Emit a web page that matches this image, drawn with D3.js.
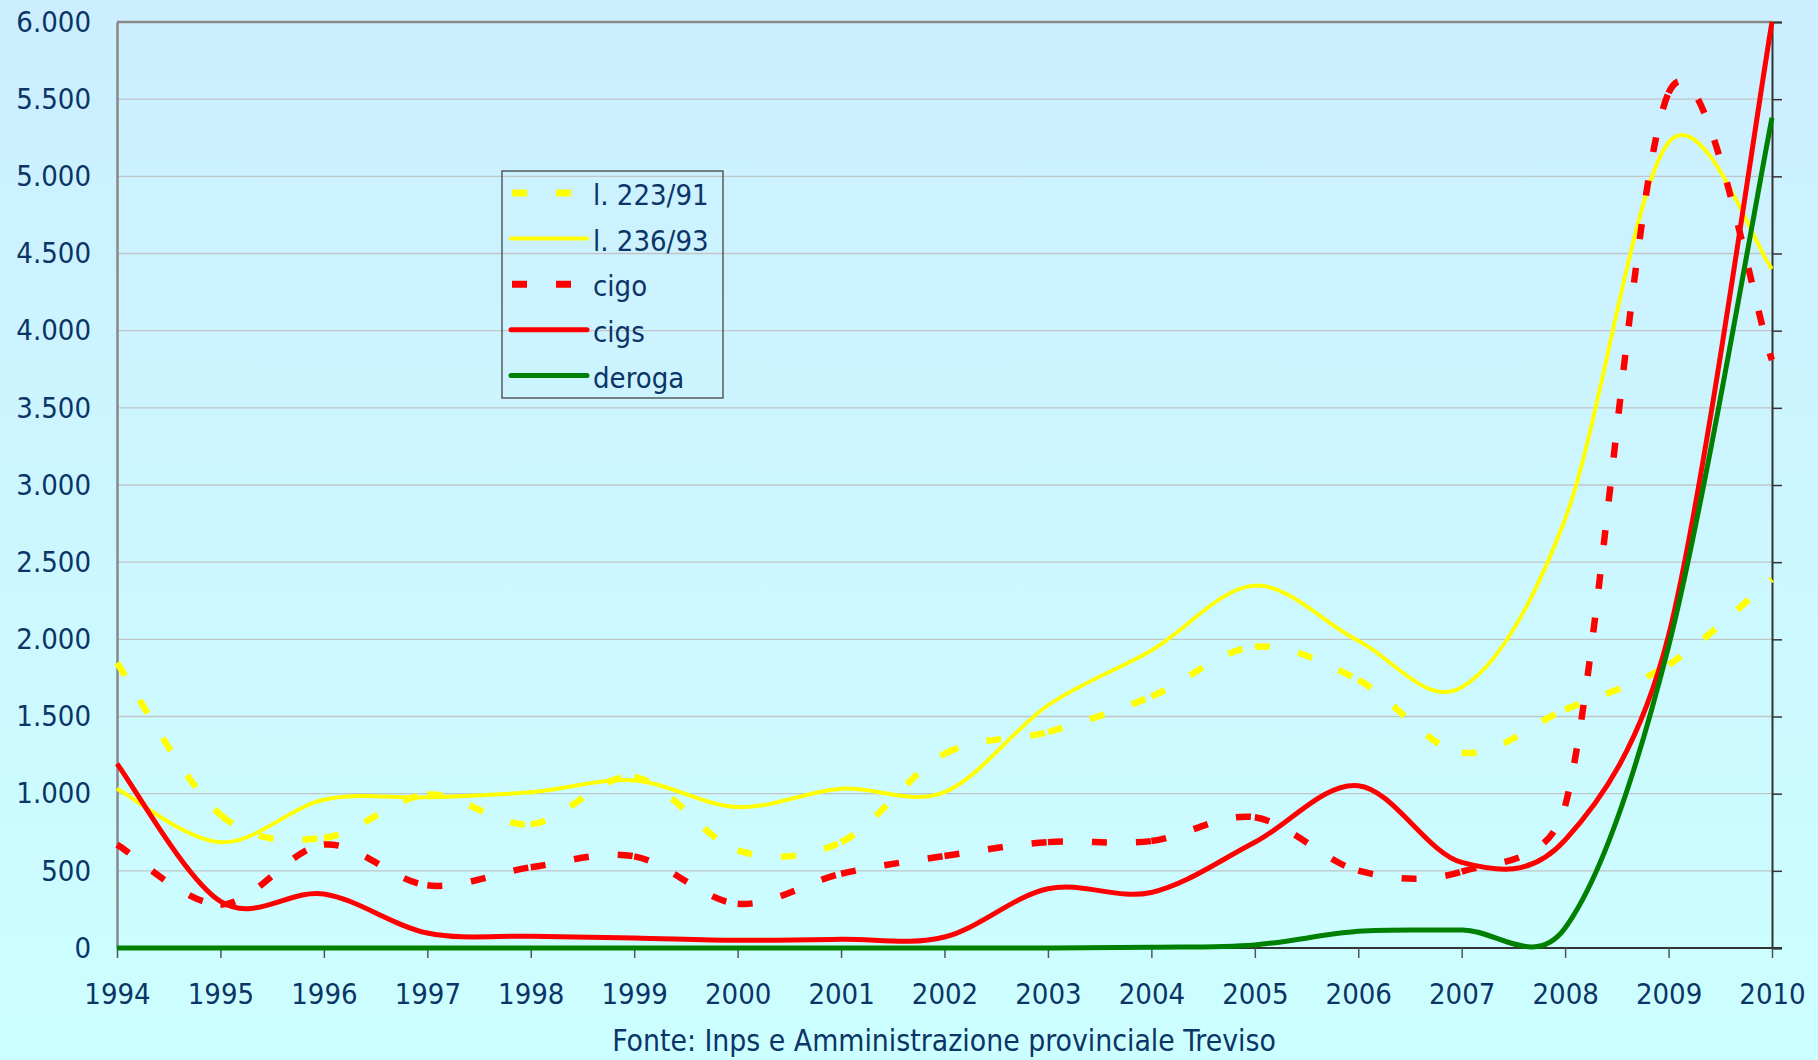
<!DOCTYPE html>
<html>
<head>
<meta charset="utf-8">
<script src="https://cdn.jsdelivr.net/npm/d3@7"></script>
<style>
  body { margin: 0; }
  text {
    font-family: "DejaVu Sans Condensed", "DejaVu Sans", sans-serif;
    font-stretch: condensed;
    fill: #0b3566;
  }
</style>
</head>
<body>
<div id="chart"></div>
<script>
// data (annual values)
var years = [1994, 1995, 1996, 1997, 1998, 1999, 2000, 2001, 2002,
             2003, 2004, 2005, 2006, 2007, 2008, 2009, 2010];
var l22391 = [1847, 864, 713, 994, 801, 1108, 633, 686, 1258,
              1399, 1630, 1952, 1737, 1266, 1545, 1835, 2390];
var l23693 = [1032, 685, 961, 976, 1009, 1086, 913, 1032, 1010,
              1572, 1928, 2348, 1991, 1689, 2780, 5220, 4400];
var cigo = [670, 281, 670, 406, 523, 594, 287, 481, 596,
            686, 693, 847, 501, 495, 920, 5540, 3810];
var cigs = [1194, 302, 350, 97, 76, 65, 50, 56, 71,
            384, 360, 685, 1052, 555, 700, 2025, 6000];
var deroga = [0, 0, 0, 0, 0, 0, 0, 0, 0,
              0, 5, 20, 108, 117, 130, 1955, 5380];
var yTicks = [0, 500, 1000, 1500, 2000, 2500, 3000, 3500, 4000, 4500, 5000, 5500, 6000];
var source = "Fonte: Inps e Amministrazione provinciale Treviso";

var series = [
  {name: "l. 223/91", values: l22391, color: "#ffff00", dashed: true},
  {name: "l. 236/93", values: l23693, color: "#ffff00", dashed: false, w: 4},
  {name: "cigo", values: cigo, color: "#ff0000", dashed: true},
  {name: "cigs", values: cigs, color: "#ff0000", dashed: false, w: 5},
  {name: "deroga", values: deroga, color: "#008000", dashed: false, w: 5}
];

var svgWidth = 1818;
var svgHeight = 1060;
var margin = {top: 22, right: 46, bottom: 112, left: 117};
var width = svgWidth - margin.left - margin.right;
var height = svgHeight - margin.top - margin.bottom;

var svg = d3.select("#chart")
  .append("svg")
  .attr("width", svgWidth)
  .attr("height", svgHeight);

var grad = svg.append("defs").append("linearGradient")
  .attr("id", "bg")
  .attr("x1", 0).attr("y1", 0).attr("x2", 0).attr("y2", 1);
grad.append("stop").attr("offset", "0%").attr("stop-color", "#cceeff");
grad.append("stop").attr("offset", "100%").attr("stop-color", "#ccffff");

svg.append("rect")
  .attr("width", svgWidth)
  .attr("height", svgHeight)
  .attr("fill", "url(#bg)");

var chartGroup = svg.append("g")
  .attr("transform", `translate(${margin.left}, ${margin.top})`);

var x = d3.scaleLinear()
  .domain([years[0], years[years.length - 1]])
  .range([0, width]);

var y = d3.scaleLinear()
  .domain([0, 6000])
  .range([height, 0]);

var it = d3.formatLocale({decimal: ",", thousands: ".", grouping: [3], currency: ["€", ""]});
var fmt = it.format(",d");

// gridlines
chartGroup.append("g")
  .selectAll("line")
  .data(yTicks.filter(d => d > 0 && d < 6000))
  .enter()
  .append("line")
  .attr("x1", 0)
  .attr("x2", width)
  .attr("y1", d => y(d))
  .attr("y2", d => y(d))
  .attr("stroke", "#bfc5c8")
  .attr("stroke-width", 1.3);

// top border of plot area
chartGroup.append("line")
  .attr("x1", 0).attr("x2", width)
  .attr("y1", 0).attr("y2", 0)
  .attr("stroke", "#888888")
  .attr("stroke-width", 2.5);

// left axis (labels only, grey line)
var leftAxis = d3.axisLeft(y).tickValues(yTicks).tickFormat(fmt).tickSize(0).tickPadding(26);
var gl = chartGroup.append("g").call(leftAxis);
gl.select(".domain").attr("stroke", "#888888").attr("stroke-width", 2.5);
gl.selectAll("text")
  .style("font-size", "29px")
  .attr("fill", "#0b3566");

// right axis (ticks only)
var rightAxis = d3.axisRight(y).tickValues(yTicks).tickFormat("").tickSize(10);
var gr = chartGroup.append("g")
  .attr("transform", `translate(${width}, 0)`)
  .call(rightAxis);
gr.select(".domain").attr("stroke", "#333333").attr("stroke-width", 2);
gr.selectAll(".tick line").attr("stroke", "#333333").attr("stroke-width", 1.5);

// bottom axis
var bottomAxis = d3.axisBottom(x).tickValues(years).tickFormat(d3.format("d"))
  .tickSize(10).tickPadding(25).tickSizeOuter(0);
var gb = chartGroup.append("g")
  .attr("transform", `translate(0, ${height})`)
  .call(bottomAxis);
gb.select(".domain").attr("stroke", "#333333").attr("stroke-width", 2)
  .attr("d", `M0,0H${width + 10}`);
gb.selectAll(".tick line").attr("stroke", "#555555").attr("stroke-width", 1.5);
gb.selectAll("text")
  .style("font-size", "29px")
  .attr("fill", "#0b3566");

// Excel-like smoothing: catmull-rom handles, capped at half the chord,
// one bezier per pair of points (so dashes restart at every point)
function smoothSegments(values) {
  var pts = values.map((v, i) => [x(years[i]), y(v)]);
  var n = pts.length;
  var tan = pts.map(function(p, i) {
    var a = pts[Math.max(i - 1, 0)], b = pts[Math.min(i + 1, n - 1)];
    return [(b[0] - a[0]) / 6, (b[1] - a[1]) / 6];
  });
  function capped(t, chord) {
    var len = Math.hypot(t[0], t[1]);
    var k = len > chord / 2 ? (chord / 2) / len : 1;
    return [t[0] * k, t[1] * k];
  }
  var segs = [];
  for (var i = 0; i < n - 1; i++) {
    var p0 = pts[i], p1 = pts[i + 1];
    var chord = Math.hypot(p1[0] - p0[0], p1[1] - p0[1]);
    var t0 = capped(tan[i], chord), t1 = capped(tan[i + 1], chord);
    var p = d3.path();
    p.moveTo(p0[0], p0[1]);
    p.bezierCurveTo(p0[0] + t0[0], p0[1] + t0[1], p1[0] - t1[0], p1[1] - t1[1], p1[0], p1[1]);
    segs.push(p.toString());
  }
  return segs;
}

series.forEach(function(s) {
  var segs = smoothSegments(s.values);
  if (s.dashed) {
    chartGroup.append("g")
      .selectAll("path")
      .data(segs)
      .enter()
      .append("path")
      .attr("d", p => p)
      .attr("fill", "none")
      .attr("stroke", s.color)
      .attr("stroke-width", 6.5)
      .attr("stroke-dasharray", "15,29");
  } else {
    chartGroup.append("path")
      .attr("d", segs.map((p, i) => i ? p.replace(/^M[^C]*/, "") : p).join(""))
      .attr("fill", "none")
      .attr("stroke", s.color)
      .attr("stroke-width", s.w)
      .attr("stroke-linejoin", "round");
  }
});

// legend
var legend = svg.append("g").attr("transform", "translate(502, 171)");
legend.append("rect")
  .attr("width", 221)
  .attr("height", 227)
  .attr("fill", "none")
  .attr("stroke", "#444444")
  .attr("stroke-width", 1.3);

var rows = legend.selectAll(".row")
  .data(series)
  .enter()
  .append("g")
  .attr("class", "row")
  .attr("transform", (d, i) => `translate(0, ${22 + i * 45.6})`);

rows.append("line")
  .attr("x1", 9).attr("x2", 85)
  .attr("stroke", d => d.color)
  .attr("stroke-width", d => d.dashed ? 7 : d.w)
  .attr("stroke-linecap", d => d.dashed ? "butt" : "round")
  .attr("stroke-dasharray", d => d.dashed ? "15,29" : null)
  .attr("transform", d => d.dashed ? "translate(1,0)" : null);

rows.append("text")
  .attr("x", 91)
  .attr("dy", "0.42em")
  .style("font-size", "29px")
  .text(d => d.name);

// source note
svg.append("text")
  .attr("x", 944)
  .attr("y", 1051)
  .attr("text-anchor", "middle")
  .style("font-size", "29.8px")
  .text(source);
</script>
</body>
</html>
